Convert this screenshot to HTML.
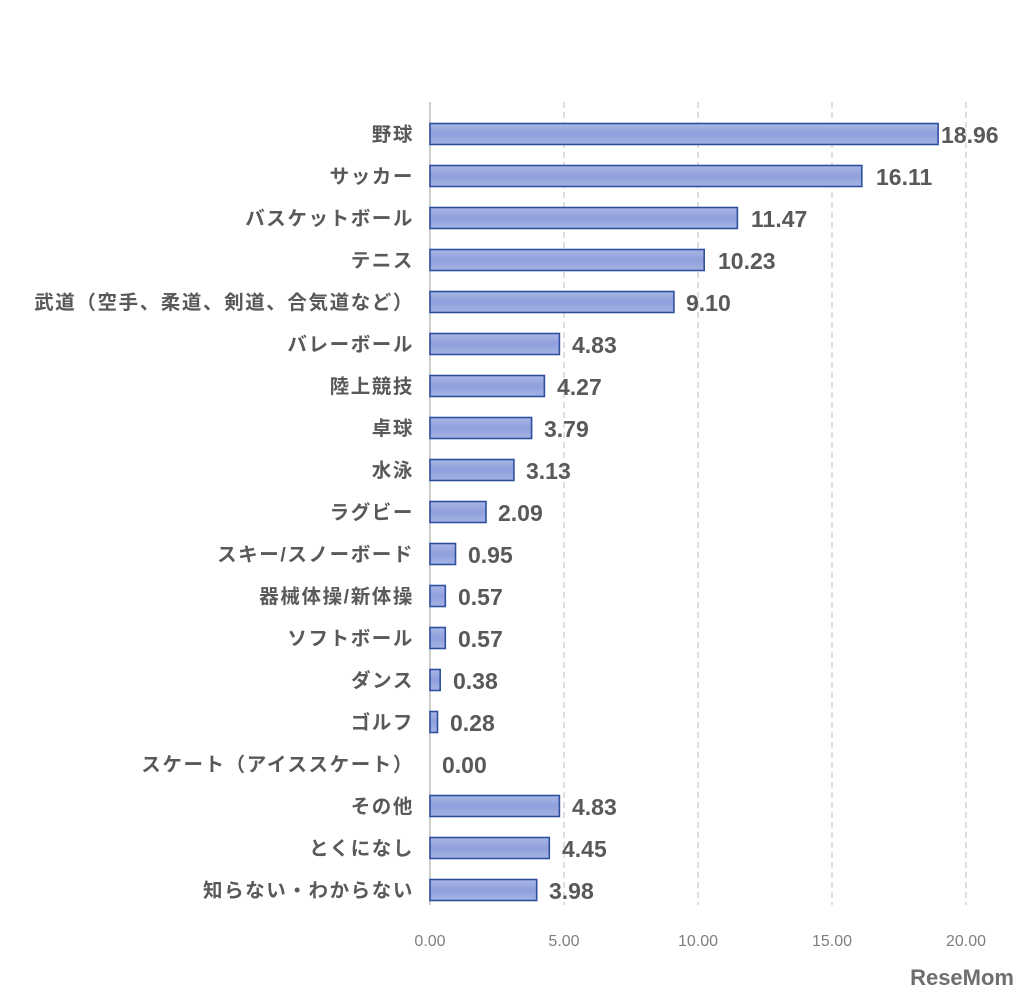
<!DOCTYPE html>
<html><head><meta charset="utf-8"><style>
body{margin:0;background:#fff;}
svg text{font-family:"Liberation Sans","Noto Sans CJK JP",sans-serif;}
.l{font-size:19.5px;font-weight:bold;fill:#595959;text-anchor:end;letter-spacing:1.6px;}
.v{font-size:23px;fill:#595959;font-weight:bold;}
.b{fill:url(#g);stroke:#2f4f9f;stroke-width:1.6;}
</style></head><body>
<svg width="1034" height="1001" xmlns="http://www.w3.org/2000/svg">
<defs><linearGradient id="g" x1="0" y1="0" x2="0" y2="1">
<stop offset="0" stop-color="#aab6e6"/><stop offset="0.5" stop-color="#8f9fdc"/><stop offset="1" stop-color="#a7b3e4"/></linearGradient></defs>
<g stroke="#c8c8c8" stroke-width="1.2" stroke-dasharray="6,4">
<line x1="564" y1="102" x2="564" y2="905"/><line x1="698" y1="102" x2="698" y2="905"/>
<line x1="832" y1="102" x2="832" y2="905"/><line x1="966" y1="102" x2="966" y2="905"/>
</g>
<line x1="430" y1="102" x2="430" y2="905" stroke="#bfbfbf" stroke-width="1.5"/>
<rect class="b" x="430" y="123.5" width="508.1" height="21"/>
<rect class="b" x="430" y="165.5" width="431.8" height="21"/>
<rect class="b" x="430" y="207.5" width="307.4" height="21"/>
<rect class="b" x="430" y="249.5" width="274.2" height="21"/>
<rect class="b" x="430" y="291.5" width="243.9" height="21"/>
<rect class="b" x="430" y="333.5" width="129.4" height="21"/>
<rect class="b" x="430" y="375.5" width="114.4" height="21"/>
<rect class="b" x="430" y="417.5" width="101.6" height="21"/>
<rect class="b" x="430" y="459.5" width="83.9" height="21"/>
<rect class="b" x="430" y="501.5" width="56" height="21"/>
<rect class="b" x="430" y="543.5" width="25.5" height="21"/>
<rect class="b" x="430" y="585.5" width="15.3" height="21"/>
<rect class="b" x="430" y="627.5" width="15.3" height="21"/>
<rect class="b" x="430" y="669.5" width="10.2" height="21"/>
<rect class="b" x="430" y="711.5" width="7.5" height="21"/>
<rect class="b" x="430" y="795.5" width="129.4" height="21"/>
<rect class="b" x="430" y="837.5" width="119.3" height="21"/>
<rect class="b" x="430" y="879.5" width="106.7" height="21"/>

<text class="l" x="414" y="141">野球</text>
<text class="l" x="414" y="183">サッカー</text>
<text class="l" x="414" y="225">バスケットボール</text>
<text class="l" x="414" y="267">テニス</text>
<text class="l" x="414" y="309">武道（空手、柔道、剣道、合気道など）</text>
<text class="l" x="414" y="351">バレーボール</text>
<text class="l" x="414" y="393">陸上競技</text>
<text class="l" x="414" y="435">卓球</text>
<text class="l" x="414" y="477">水泳</text>
<text class="l" x="414" y="519">ラグビー</text>
<text class="l" x="414" y="561">スキー/スノーボード</text>
<text class="l" x="414" y="603">器械体操/新体操</text>
<text class="l" x="414" y="645">ソフトボール</text>
<text class="l" x="414" y="687">ダンス</text>
<text class="l" x="414" y="729">ゴルフ</text>
<text class="l" x="414" y="771">スケート（アイススケート）</text>
<text class="l" x="414" y="813">その他</text>
<text class="l" x="414" y="855">とくになし</text>
<text class="l" x="414" y="897">知らない・わからない</text>

<text class="v" x="941" y="143">18.96</text>
<text class="v" x="876" y="185">16.11</text>
<text class="v" x="751" y="227">11.47</text>
<text class="v" x="718" y="269">10.23</text>
<text class="v" x="686" y="311">9.10</text>
<text class="v" x="572" y="353">4.83</text>
<text class="v" x="557" y="395">4.27</text>
<text class="v" x="544" y="437">3.79</text>
<text class="v" x="526" y="479">3.13</text>
<text class="v" x="498" y="521">2.09</text>
<text class="v" x="468" y="563">0.95</text>
<text class="v" x="458" y="605">0.57</text>
<text class="v" x="458" y="647">0.57</text>
<text class="v" x="453" y="689">0.38</text>
<text class="v" x="450" y="731">0.28</text>
<text class="v" x="442" y="773">0.00</text>
<text class="v" x="572" y="815">4.83</text>
<text class="v" x="562" y="857">4.45</text>
<text class="v" x="549" y="899">3.98</text>

<g font-size="16" fill="#7f7f7f" text-anchor="middle">
<text x="430" y="946">0.00</text><text x="564" y="946">5.00</text><text x="698" y="946">10.00</text><text x="832" y="946">15.00</text><text x="966" y="946">20.00</text>
</g>
<text x="1014" y="985" font-size="22" font-weight="bold" fill="#6f6f6f" text-anchor="end">ReseMom</text>
</svg>
</body></html>
